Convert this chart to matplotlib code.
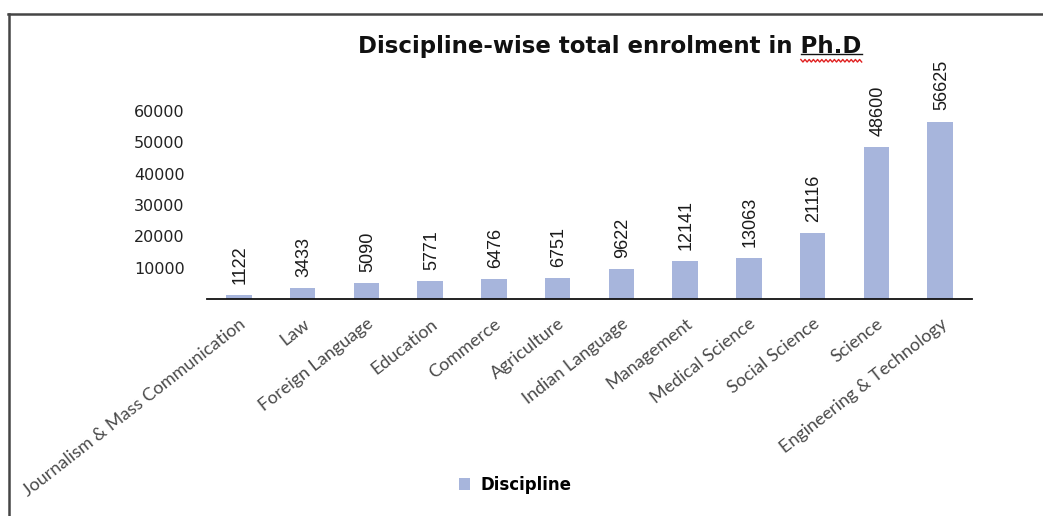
import numpy as np
import matplotlib
matplotlib.use("Agg")
import matplotlib.pyplot as plt
from matplotlib.lines import Line2D

disciplines = [
    "Journalism & Mass Communication", "Law", "Foreign Language", "Education",
    "Commerce", "Agriculture", "Indian Language", "Management",
    "Medical Science", "Social Science", "Science", "Engineering & Technology",
]
enrolment = [1122, 3433, 5090, 5771, 6476, 6751, 9622, 12141, 13063, 21116, 48600, 56625]
y_ticks = [10000, 20000, 30000, 40000, 50000, 60000]

BAR = "#a7b5dc"
W, H = 1043, 516

fig = plt.figure(figsize=(W / 100, H / 100), dpi=100)
ax = fig.add_axes([207 / W, 1 - 299 / H, 765 / W, 188 / H])

x = np.arange(len(disciplines))
bars = ax.bar(x, enrolment, width=0.4, color=BAR, label="Discipline", zorder=2)

for xi, v in zip(x, enrolment):
    ax.annotate(str(v), xy=(xi, v), xytext=(1, 8), textcoords="offset points",
                rotation=90, ha="center", va="bottom", fontsize=13,
                family="Liberation Sans", color="#1a1a1a")

ax.set_xlim(-0.5, len(disciplines) - 0.5)
ax.set_ylim(0, 60000)
ax.set_yticks(y_ticks)
ax.set_yticklabels([str(t) for t in y_ticks], fontsize=11.5, color="#222222")
ax.tick_params(axis="y", length=0, pad=16)
ax.set_xticks(x)
ax.set_xticklabels(disciplines, rotation=38, ha="right", va="top",
                   rotation_mode="anchor", fontsize=13, family="Lato",
                   color="#4a4a4a")
ax.tick_params(axis="x", length=0, pad=12)
for s in ("top", "right", "left"):
    ax.spines[s].set_visible(False)
ax.spines["bottom"].set_linewidth(1.3)
ax.spines["bottom"].set_color("#111111")

# title, with the underlined "Ph.D" part
title_kw = dict(fontsize=16.5, fontweight="bold", family="DejaVu Sans", color="#111111")
title = fig.text(610 / W, 1 - 47 / H, "Discipline-wise total enrolment in Ph.D",
                 ha="center", va="center", **title_kw)
fig.canvas.draw()
r = fig.canvas.get_renderer()
tb = title.get_window_extent(r)
tmp = fig.text(0, 0, "Ph.D", **title_kw)
pw = tmp.get_window_extent(r).width
tmp.remove()
ux0, ux1 = (tb.x1 - pw) / W, tb.x1 / W
uy = (tb.y0 + 4) / H
fig.add_artist(Line2D([ux0, ux1], [uy, uy], color="#111111", lw=1.0,
                      transform=fig.transFigure))
wx = np.linspace(tb.x1 - pw, tb.x1, 30)
wy = tb.y0 - 1 - np.where(np.arange(len(wx)) % 2 == 0, 0.0, 2.5)
fig.add_artist(Line2D(wx / W, wy / H, color="#e02020", lw=1.0,
                      transform=fig.transFigure))

# frame edges
fig.add_artist(Line2D([8 / W, 1], [1 - 13.5 / H, 1 - 13.5 / H], color="#454545",
                      lw=1.8, transform=fig.transFigure))
fig.add_artist(Line2D([8.5 / W, 8.5 / W], [0, 1 - 13.5 / H], color="#454545",
                      lw=1.8, transform=fig.transFigure))

leg = fig.legend(handles=[bars], labels=["Discipline"], loc="center",
                 bbox_to_anchor=(515 / W, 1 - 485 / H), frameon=False,
                 handlelength=0.7, handleheight=0.7, handletextpad=0.6,
                 prop=dict(size=12, weight="bold", family="DejaVu Sans"))

fig.savefig("out.png", dpi=100)
